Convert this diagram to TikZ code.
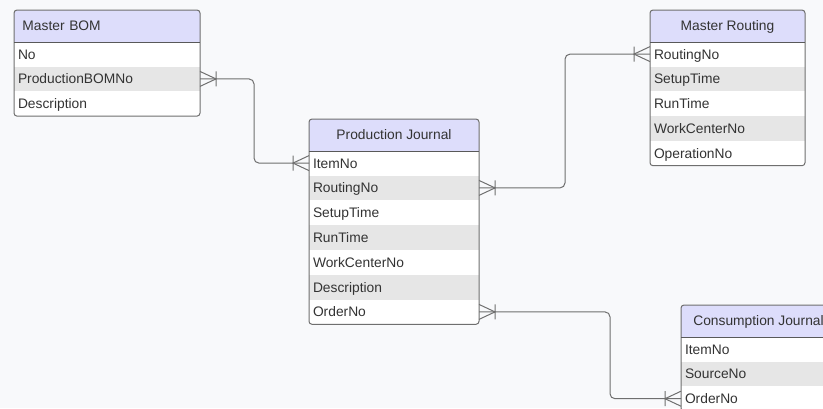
\documentclass[tikz,border=0pt]{standalone}
\usepackage{fontspec}
\setmainfont{Liberation Sans}
\usetikzlibrary{positioning}

\definecolor{pagebg}{HTML}{F8F9FB}
\definecolor{headfill}{HTML}{DDDDFB}
\definecolor{stripe}{HTML}{E6E6E6}
\definecolor{edge}{HTML}{6F6F6F}
\definecolor{ink}{HTML}{333333}

\tikzset{
  tablehead/.style={minimum height=31.7pt, inner xsep=8.5pt, inner ysep=0pt, outer sep=0pt,
    text height=9.9pt, text depth=0pt, fill=headfill, rounded corners=3pt, text=ink},
  field/.style={minimum height=24.8pt, inner xsep=4pt, inner ysep=0pt, outer sep=0pt,
    text height=9.9pt, text depth=0pt, text width=#1, align=left, text=ink},
  crowfoot/.pic={\draw[edge, line width=1pt] (0,-7.5) -- (-16,0) -- (0,7.5) (-16,-7.5) -- (-16,7.5);},
  link/.style={draw=edge, line width=1pt, rounded corners=5pt},
  frame/.style={draw=edge, line width=1pt, rounded corners=3pt},
}

\begin{document}
\begin{tikzpicture}[x=1pt,y=-1pt,font=\fontsize{13.8}{16}\selectfont]
\path[use as bounding box] (0,0) rectangle (823,408);
\clip (0,0) rectangle (823,408);
\fill[pagebg] (0,0) rectangle (823,408);

\node[tablehead, anchor=north west, text width=169pt, align=left] (bom-0) at (14,10) {Master BOM};
\fill[headfill] ([yshift=4pt]bom-0.south west) rectangle (bom-0.south east);
\foreach \f [count=\i, remember=\i as \j (initially 0)] in {No,ProductionBOMNo,Description}{
  \ifodd\i \def\rowcol{white}\else \def\rowcol{stripe}\fi
  \node[field=178pt, fill=\rowcol, below=0pt of bom-\j] (bom-\i) {\f};
}
\draw[frame] (bom-0.north west) rectangle (bom-3.south east);
\draw[edge!80!black] (bom-0.south west) -- (bom-0.south east);

\node[tablehead, anchor=north west, minimum width=170pt] (pj-0) at (309,119) {Production Journal};
\fill[headfill] ([yshift=4pt]pj-0.south west) rectangle (pj-0.south east);
\foreach \f [count=\i, remember=\i as \j (initially 0)] in {ItemNo,RoutingNo,SetupTime,RunTime,WorkCenterNo,Description,OrderNo}{
  \ifodd\i \def\rowcol{white}\else \def\rowcol{stripe}\fi
  \node[field=162pt, fill=\rowcol, below=0pt of pj-\j] (pj-\i) {\f};
}
\draw[frame] (pj-0.north west) rectangle (pj-7.south east);
\draw[edge!80!black] (pj-0.south west) -- (pj-0.south east);

\node[tablehead, anchor=north west, minimum width=155pt] (mr-0) at (650,10) {Master Routing};
\fill[headfill] ([yshift=4pt]mr-0.south west) rectangle (mr-0.south east);
\foreach \f [count=\i, remember=\i as \j (initially 0)] in {RoutingNo,SetupTime,RunTime,WorkCenterNo,OperationNo}{
  \ifodd\i \def\rowcol{white}\else \def\rowcol{stripe}\fi
  \node[field=147pt, fill=\rowcol, below=0pt of mr-\j] (mr-\i) {\f};
}
\draw[frame] (mr-0.north west) rectangle (mr-5.south east);
\draw[edge!80!black] (mr-0.south west) -- (mr-0.south east);

\node[tablehead, anchor=north west, minimum width=155pt] (cj-0) at (681,305) {Consumption Journal};
\fill[headfill] ([yshift=4pt]cj-0.south west) rectangle (cj-0.south east);
\foreach \f [count=\i, remember=\i as \j (initially 0)] in {ItemNo,SourceNo,OrderNo}{
  \ifodd\i \def\rowcol{white}\else \def\rowcol{stripe}\fi
  \node[field=147pt, fill=\rowcol, below=0pt of cj-\j] (cj-\i) {\f};
}
\draw[frame] (cj-0.north west) rectangle (cj-3.south east);
\draw[edge!80!black] (cj-0.south west) -- (cj-0.south east);

\draw[link] (bom-2.east) -- ++(54,0) |- (pj-1.west);
\draw[link] (pj-2.east) -- ++(86,0) |- (mr-1.west);
\draw[link] (pj-7.east) -- ++(131,0) |- (cj-3.west);

\pic[rotate=180] at (bom-2.east) {crowfoot};
\pic at (pj-1.west) {crowfoot};
\pic[rotate=180] at (pj-2.east) {crowfoot};
\pic at (mr-1.west) {crowfoot};
\pic[rotate=180] at (pj-7.east) {crowfoot};
\pic at (cj-3.west) {crowfoot};
\end{tikzpicture}
\end{document}
